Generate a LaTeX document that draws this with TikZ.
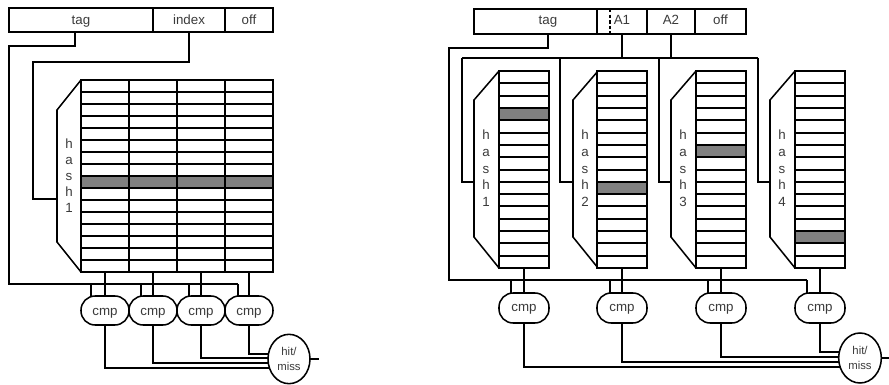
\documentclass[tikz,border=0pt]{standalone}
\usepackage{fontspec}
\setmainfont{Liberation Sans}
\usepackage{xcolor}
\usetikzlibrary{shapes.geometric, backgrounds}
\definecolor{gris}{HTML}{808080}
\definecolor{texto}{HTML}{3A3A3A}
\tikzset{
  linea/.style={draw=black, line width=1.15pt, line join=miter},
  campo/.style={linea, rectangle, inner sep=0pt, outer sep=0pt, text=texto,
    text height=7.5pt, text depth=0pt, font=\fontsize{10}{12}\selectfont},
  celda/.style={linea, rectangle, inner sep=0pt, outer sep=0pt, fill=white},
  cmp/.style={linea, rectangle, rounded corners=10.6pt, fill=white, inner sep=0pt,
    outer sep=0pt, text=texto, text height=6.75pt, text depth=0pt,
    font=\fontsize{10}{12}\selectfont},
  hitmiss/.style={linea, ellipse, fill=white, inner sep=0pt, outer sep=0pt, align=center,
    minimum width=31.5pt, minimum height=37pt, text=texto,
    font=\fontsize{8.5}{11}\selectfont},
  letras/.style={align=center, inner sep=0pt, text=texto}
}

\begin{document}
\begin{tikzpicture}[x=0.75pt, y=-0.75pt]
  \useasboundingbox (0,0) rectangle (889,385);

  % --- Izquierda: direccion ---
  \node[campo, minimum width=108pt, minimum height=18pt] (tagL) at (81,20) {tag};
  \node[campo, minimum width=54pt, minimum height=18pt] (indexL) at (189,20) {index};
  \node[campo, minimum width=36pt, minimum height=18pt] (offL) at (249,20) {off};

  % --- Izquierda: hash y tabla ---
  \draw[linea] (81,80) -- (57,110) -- (57,242) -- (81,272);
  \node[letras, font=\fontsize{10}{12}\selectfont] (hashL) at (69,175.5) {h\\a\\s\\h\\1};
  \foreach \c/\x in {1/105,2/153,3/201,4/249} {
    \foreach \r in {0,...,15} {
      \ifnum\r=8 \tikzset{relleno/.style={fill=gris}}\else \tikzset{relleno/.style={}}\fi
      \node[celda, relleno, minimum width=36pt, minimum height=9pt]
        (L\c-\r) at (\x,{86+12*\r}) {};
    }
    \node[cmp, minimum width=36pt, minimum height=21.75pt] (cmpL\c) at (\x,310.5) {cmp};
  }
  \node[hitmiss] (hitL) at (289,359) {hit/\\miss};
  \coordinate (tagLs) at (75,32);
  \coordinate (tagLa) at (9,46);
  \coordinate (tagLb) at (9,284);
  \coordinate (indexLa) at (33,62);
  \coordinate (hashLin) at (57,199);
  \coordinate (salidaL) at (319,359);

  \begin{scope}[on background layer]
    \draw[linea] (tagLs) |- (tagLa) -- (tagLb) -- (238,284);
    \draw[linea] (indexL.south) |- (indexLa) |- (hashLin);
    \foreach \c/\t/\f in {1/91/368,2/141/363,3/189/358,4/238/354} {
      \coordinate (busL\c) at (\t,284);
      \coordinate (hitL\c) at (289,\f);
      \draw[linea] (L\c-15.south) -- (cmpL\c.north);
      \draw[linea] (busL\c) -- (busL\c |- cmpL\c.center);
      \draw[linea] (cmpL\c.south) |- (hitL\c);
    }
  \end{scope}
  \draw[linea] (hitL.east) -- (salidaL);

  % --- Derecha: direccion ---
  \node[campo, minimum width=92.25pt, minimum height=18.75pt] (tagR) at (535.5,21.5) {};
  \node[campo, draw=none, text height=5.25pt] (tagRt) at (548,21.5) {tag};
  \node[campo, text height=5.25pt, minimum width=37.5pt, minimum height=18.75pt] (A1) at (622,21.5) {A1};
  \node[campo, text height=5.25pt, minimum width=36pt, minimum height=18.75pt] (A2) at (671,21.5) {A2};
  \node[campo, text height=5.25pt, minimum width=38.25pt, minimum height=18.75pt] (offR) at (720.5,21.5) {off};
  \coordinate (corte) at (610,9);
  \draw[linea, dash pattern=on 2.6pt off 1.6pt] (corte) -- (corte |- A1.south);

  % --- Derecha: hash y tablas ---
  \foreach \i/\h in {1/474,2/573,3/671,4/770} {
    \draw[linea] ({\h+25},71) -- (\h,100) -- (\h,237) -- ({\h+25},268);
    \node[letras, font=\fontsize{10}{12.5}\selectfont] (hash\i) at ({\h+12},168.5) {h\\a\\s\\h\\\i};
    \coordinate (hashin\i) at (\h,182);
  }
  \foreach \c/\x/\g in {1/524/3,2/622/9,3/721/6,4/820/13} {
    \foreach \r in {0,...,15} {
      \ifnum\r=\g \tikzset{relleno/.style={fill=gris}}\else \tikzset{relleno/.style={}}\fi
      \pgfmathsetmacro\ya{round(71+12.3125*\r)}
      \pgfmathsetmacro\yb{round(71+12.3125*(\r+1))}
      \pgfmathsetmacro\alto{0.75*(\yb-\ya)}
      \node[celda, relleno, minimum width=37.5pt, minimum height=\alto pt]
        (R\c-\r) at (\x,{(\ya+\yb)/2}) {};
    }
    \node[cmp, text height=5.6pt, minimum width=37.5pt, minimum height=22.5pt] (cmpR\c) at (\x,308) {cmp};
  }
  \node[hitmiss, minimum width=32pt, minimum height=37.5pt] (hitR) at (860,358) {hit/\\miss};
  \coordinate (tagRs) at (548,34);
  \coordinate (tagRa) at (449,48);
  \coordinate (tagRb) at (449,280);
  \coordinate (salidaR) at (889,358);

  \begin{scope}[on background layer]
    \draw[linea] (tagRs) |- (tagRa) -- (tagRb) -- (807,280);
    \coordinate (busa) at (462,58);
    \coordinate (busb) at (758,58);
    \draw[linea] (busa) -- (busb);
    \draw[linea] (A1.south) -- (A1.south |- busa);
    \draw[linea] (A2.south) -- (A2.south |- busa);
    \foreach \i/\x in {1/462,2/560,3/659,4/758} {
      \coordinate (bus\i) at (\x,58);
      \draw[linea] (bus\i) |- (hashin\i);
    }
    \foreach \c/\t/\f in {1/511/367,2/610/362,3/708/357,4/807/352} {
      \coordinate (busR\c) at (\t,280);
      \coordinate (hitR\c) at (860,\f);
      \draw[linea] (R\c-15.south) -- (cmpR\c.north);
      \draw[linea] (busR\c) -- (busR\c |- cmpR\c.center);
      \draw[linea] (cmpR\c.south) |- (hitR\c);
    }
  \end{scope}
  \draw[linea] (hitR.east) -- (salidaR);

\end{tikzpicture}
\end{document}
